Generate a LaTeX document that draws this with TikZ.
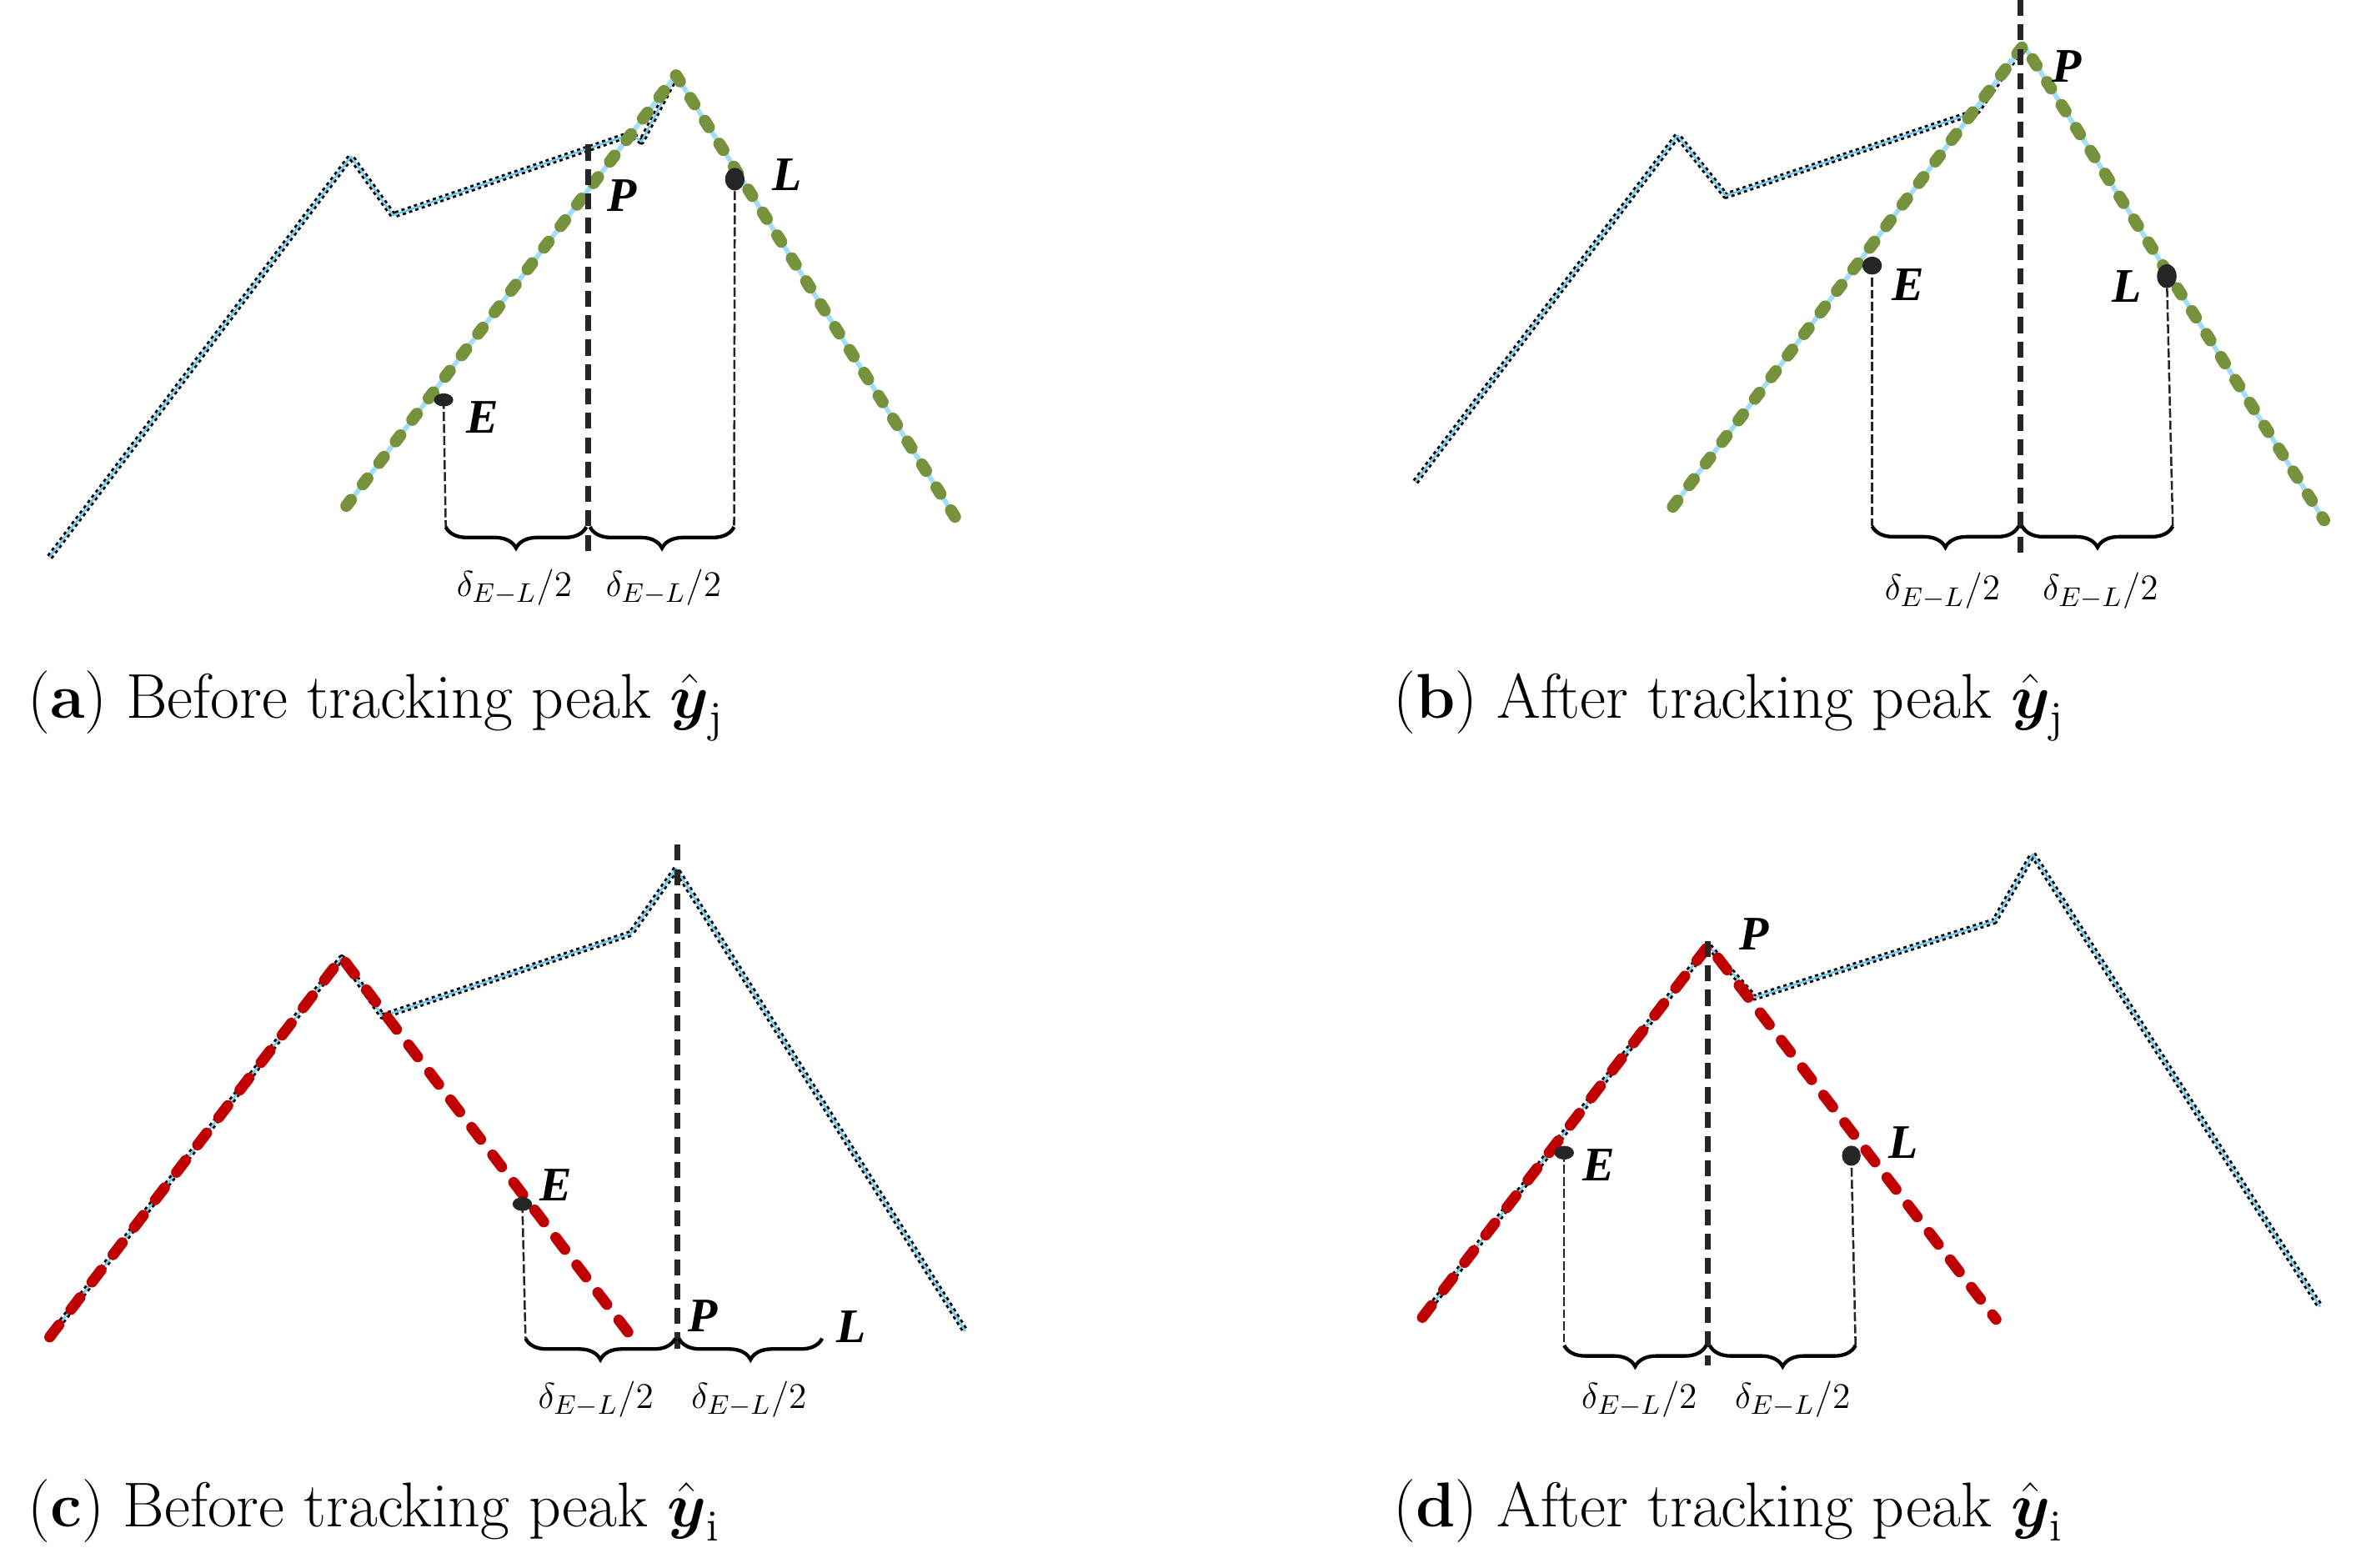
\documentclass[tikz,border=0pt]{standalone}
\usepackage{amsmath}
\usepackage{fontspec}
\newfontfamily\lblfont{Liberation Serif}
\usetikzlibrary{decorations.pathreplacing}
\definecolor{sigblue}{RGB}{120,200,235}
\definecolor{ltblue}{RGB}{164,222,244}
\definecolor{grnc}{RGB}{118,146,60}
\definecolor{redc}{RGB}{192,0,0}
\definecolor{dk}{RGB}{38,38,38}
\begin{document}
\begin{tikzpicture}[x=0.5pt,y=-0.5pt,
  sig/.style={draw=sigblue, line width=0.7pt, line join=round,
    preaction={draw=black, line width=2.2pt, dash pattern=on 1.1pt off 1.1pt, line join=round}},
  grn/.style={draw=grnc, line width=4pt, line cap=round, line join=round, dash pattern=on 2.5pt off 6.5pt,
    preaction={draw=ltblue, line width=1.6pt, solid}},
  reddash/.style={draw=redc, line width=3.6pt, line cap=round, line join=round, dash pattern=on 5pt off 6.5pt},
  peakline/.style={draw=dk, line width=2pt, dash pattern=on 5.3pt off 2.8pt},
  drop/.style={draw=dk, line width=0.7pt, dash pattern=on 3pt off 1pt},
  brc/.style={draw=black, line width=1.2pt, decorate, decoration={brace, mirror, amplitude=7pt}},
  dotn/.style={draw=none, fill=dk, shape=circle, inner sep=0pt},
  lbl/.style={font=\lblfont\bfseries\itshape\fontsize{16}{18}\selectfont, inner sep=0pt},
  dl/.style={font=\fontsize{13}{15}\selectfont, inner sep=0pt},
  capt/.style={font=\fontsize{21}{25}\selectfont, anchor=base west, inner sep=0pt}
]
\useasboundingbox (0,0) rectangle (1568,1041);

% ---------------- (a) ----------------
\coordinate (a0) at (33,370);
\coordinate (a1) at (233,104);
\coordinate (a2) at (261,143);
\coordinate (a3) at (419,89);
\coordinate (a4) at (426,94);
\coordinate (a5) at (449,50);
\coordinate (gaL) at (230,336);
\coordinate (gaR) at (636,346);
\draw[sig] (a0)--(a1)--(a2)--(a3)--(a4)--(a5);
\draw[grn] (gaL)--(a5)--(gaR);
\coordinate (pa1) at (390.6,96);
\coordinate (pa2) at (390.6,366);
\draw[peakline] (pa1)--(pa2);
\coordinate (ba1) at (296,350);
\coordinate (ba2) at (390.6,350);
\coordinate (ba3) at (487.5,350);
\node[dotn, minimum width=6.4pt, minimum height=6.4pt, yscale=1.18] (La) at (488,119) {};
\node[dotn, minimum width=6.4pt, minimum height=6.4pt, yscale=0.68] (Ea) at (294.6,265.6) {};
\draw[drop] (Ea.center) -- (ba1);
\draw[drop] (La.center) -- (ba3);
\draw[brc] (ba1) -- ([xshift=-0.6pt]ba2);
\draw[brc] ([xshift=0.6pt]ba2) -- (ba3);
\node[lbl] (Pa) at (413,130) {P};
\node[lbl] (Lla) at (522.6,116) {L};
\node[lbl] (Ela) at (320.6,277) {E};
\node[dl] (da1) at (341.6,390) {$\delta_{E-L}/2$};
\node[dl] (da2) at (440.7,390) {$\delta_{E-L}/2$};
\node[capt] (capa) at (18,477) {(\textbf{a}) Before tracking peak $\hat{\boldsymbol{y}}_{\mathrm{j}}$};

% ---------------- (b) ----------------
\coordinate (b0) at (940,320);
\coordinate (b1) at (1114,90);
\coordinate (b2) at (1146,130);
\coordinate (b3) at (1313,74);
\coordinate (b5) at (1344,30);
\coordinate (gbL) at (1111,336.5);
\coordinate (gbR) at (1543.5,345.5);
\draw[sig] (b0)--(b1)--(b2)--(b3)--(b5);
\draw[grn] (gbL)--(b5)--(gbR);
\coordinate (pb1) at (1341.8,0);
\coordinate (pb2) at (1341.8,367);
\draw[peakline] (pb1)--(pb2);
\coordinate (bb1) at (1243.3,349.5);
\coordinate (bb2) at (1341.8,349.5);
\coordinate (bb3) at (1443,349.5);
\node[dotn, minimum width=6.5pt, minimum height=6.5pt, yscale=0.92] (Eb) at (1243.3,176.4) {};
\node[dotn, minimum width=6.5pt, minimum height=6.5pt, yscale=1.23] (Lb) at (1439,183.4) {};
\draw[drop] (Eb.center) -- (bb1);
\draw[drop] (Lb.center) -- (bb3);
\draw[brc] (bb1) -- ([xshift=-0.6pt]bb2);
\draw[brc] ([xshift=0.6pt]bb2) -- (bb3);
\node[lbl] (Pb) at (1372.4,44) {P};
\node[lbl] (Elb) at (1267.3,189) {E};
\node[lbl] (Llb) at (1412.3,190.3) {L};
\node[dl] (db1) at (1290,392.5) {$\delta_{E-L}/2$};
\node[dl] (db2) at (1395,392.5) {$\delta_{E-L}/2$};
\node[capt] (capb) at (925,477) {(\textbf{b}) After tracking peak $\hat{\boldsymbol{y}}_{\mathrm{j}}$};

% ---------------- (c) ----------------
\coordinate (c0) at (33,888);
\coordinate (c1) at (227,636);
\coordinate (c2) at (254,675);
\coordinate (c3) at (419,620);
\coordinate (c5) at (449,577);
\coordinate (c6) at (641,884);
\coordinate (rcR) at (420,888.6);
\draw[sig] (c0)--(c1)--(c2)--(c3)--(c5)--(c6);
\draw[reddash] (c0)--(c1)--(rcR);
\coordinate (pc1) at (449.7,561);
\coordinate (pc2) at (449.7,896);
\draw[peakline] (pc1)--(pc2);
\coordinate (bc1) at (349,889);
\coordinate (bc2) at (449.7,889);
\coordinate (bc3) at (546,889);
\node[dotn, minimum width=6.5pt, minimum height=6.5pt, yscale=0.7] (Ec) at (346.9,799.7) {};
\draw[drop] (Ec.center) -- (bc1);
\draw[brc] (bc1) -- ([xshift=-0.6pt]bc2);
\draw[brc] ([xshift=0.6pt]bc2) -- (bc3);
\node[lbl] (Elc) at (369.2,787.3) {E};
\node[lbl] (Pc) at (466.7,873.8) {P};
\node[lbl] (Llc) at (565.2,881.3) {L};
\node[dl] (dc1) at (395.7,929.5) {$\delta_{E-L}/2$};
\node[dl] (dc2) at (497.4,929.5) {$\delta_{E-L}/2$};
\node[capt] (capc) at (18,1014) {(\textbf{c}) Before tracking peak $\hat{\boldsymbol{y}}_{\mathrm{i}}$};

% ---------------- (d) ----------------
\coordinate (d0) at (944.6,875);
\coordinate (d1) at (1134.6,628);
\coordinate (d2) at (1165,662.5);
\coordinate (d3) at (1324.6,611.8);
\coordinate (d5) at (1350,567.3);
\coordinate (d6) at (1541,868);
\coordinate (rdR) at (1325.6,876.3);
\draw[sig] (d0)--(d1)--(d2)--(d3)--(d5)--(d6);
\draw[reddash] (d0)--(d1)--(rdR);
\coordinate (pd1) at (1134.3,625);
\coordinate (pd2) at (1134.3,907);
\draw[peakline] (pd1)--(pd2);
\coordinate (bd1) at (1038.8,893.6);
\coordinate (bd2) at (1134.3,893.6);
\coordinate (bd3) at (1232.3,893.6);
\node[dotn, minimum width=6.5pt, minimum height=6.5pt, yscale=0.7] (Ed) at (1038.8,765.6) {};
\node[dotn, minimum width=6.2pt, minimum height=6.2pt, yscale=1.08] (Ld) at (1229.5,767.6) {};
\draw[drop] (Ed.center) -- (bd1);
\draw[drop] (Ld.center) -- (bd3);
\draw[brc] (bd1) -- ([xshift=-0.6pt]bd2);
\draw[brc] ([xshift=0.6pt]bd2) -- (bd3);
\node[lbl] (Pd) at (1165,620.4) {P};
\node[lbl] (Eld) at (1062,773.7) {E};
\node[lbl] (Lld) at (1264,759) {L};
\node[dl] (dd1) at (1088.7,929.4) {$\delta_{E-L}/2$};
\node[dl] (dd2) at (1190.5,929.4) {$\delta_{E-L}/2$};
\node[capt] (capd) at (925,1014) {(\textbf{d}) After tracking peak $\hat{\boldsymbol{y}}_{\mathrm{i}}$};
\end{tikzpicture}
\end{document}
